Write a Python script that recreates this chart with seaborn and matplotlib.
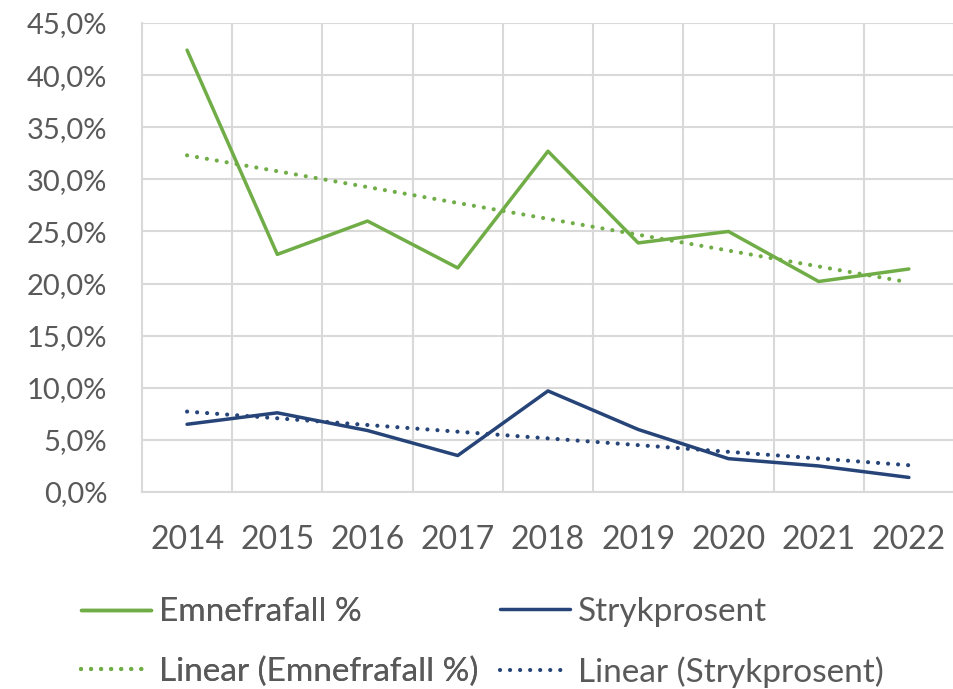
import numpy as np
import pandas as pd
import matplotlib
matplotlib.use("Agg")
import matplotlib.pyplot as plt
import seaborn as sns
from matplotlib.ticker import FuncFormatter, MultipleLocator, FixedLocator

# Data (percent)
years = ["2014", "2015", "2016", "2017", "2018", "2019", "2020", "2021", "2022"]
emnefrafall = [42.4, 22.8, 26.0, 21.5, 32.7, 23.9, 25.0, 20.2, 21.4]
strykprosent = [6.5, 7.6, 5.9, 3.5, 9.7, 6.0, 3.2, 2.5, 1.4]

green = "#70AD47"
blue = "#264478"
text_col = "#595959"
grid_col = "#D9D9D9"

sns.set_style("white")
plt.rcParams["font.family"] = ["Lato", "DejaVu Sans"]

x = np.arange(len(years))
df = pd.DataFrame({"x": x, "Emnefrafall %": emnefrafall, "Strykprosent": strykprosent})

# Linear trendlines (same as Excel "Linear" trendline)
for col in ["Emnefrafall %", "Strykprosent"]:
    k, m = np.polyfit(df["x"], df[col], 1)
    df["Linear (" + col + ")"] = k * df["x"] + m

fig = plt.figure(figsize=(9.54, 6.89), dpi=100)
ax = fig.add_axes([0.1488, 0.2859, 0.8512, 0.6807])

dots = (0, (0.01, 2.4))
sns.lineplot(data=df, x="x", y="Emnefrafall %", color=green, linewidth=2.5, ax=ax,
             label="Emnefrafall %")
sns.lineplot(data=df, x="x", y="Linear (Emnefrafall %)", color=green, linewidth=3.0, ax=ax,
             linestyle=dots, dash_capstyle="round", label="Linear (Emnefrafall %)")
sns.lineplot(data=df, x="x", y="Strykprosent", color=blue, linewidth=2.5, ax=ax,
             label="Strykprosent")
sns.lineplot(data=df, x="x", y="Linear (Strykprosent)", color=blue, linewidth=3.0, ax=ax,
             linestyle=dots, dash_capstyle="round", label="Linear (Strykprosent)")

ax.set_xlim(-0.5, len(years) - 0.5)
ax.set_ylim(0, 45)
ax.yaxis.set_major_locator(MultipleLocator(5))
ax.yaxis.set_major_formatter(FuncFormatter(lambda v, p: f"{v:.1f}%".replace(".", ",")))
ax.set_xticks(x)
ax.set_xticklabels(years)
ax.xaxis.set_minor_locator(FixedLocator(np.arange(0.5, len(years), 1.0)))

ax.grid(axis="y", which="major", color=grid_col, linewidth=1.5)
ax.grid(axis="x", which="minor", color=grid_col, linewidth=1.5)
ax.set_axisbelow(True)

for side in ["top", "right"]:
    ax.spines[side].set_visible(False)
for side in ["left", "bottom"]:
    ax.spines[side].set_color(grid_col)
    ax.spines[side].set_linewidth(1.5)

ax.tick_params(axis="both", which="both", length=0, colors=text_col)
ax.tick_params(axis="x", labelsize=23, pad=24)
ax.tick_params(axis="y", labelsize=21, pad=25)
ax.set_xlabel("")
ax.set_ylabel("")

handles, labels = ax.get_legend_handles_labels()
ax.get_legend().remove()
h = dict(zip(labels, handles))

# two legend columns placed like the Excel legend
leg_kw = dict(loc="center left", frameon=False, fontsize=24, handlelength=2.1,
              handletextpad=0.25, labelspacing=0.88, borderpad=0, borderaxespad=0)
cols = [["Emnefrafall %", "Linear (Emnefrafall %)"],
        ["Strykprosent", "Linear (Strykprosent)"]]
for i, (names, xpos) in enumerate(zip(cols, [0.0849, 0.524])):
    leg = fig.legend([h[n] for n in names], names, bbox_to_anchor=(xpos, 0.068), **leg_kw)
    for t in leg.get_texts():
        t.set_color(text_col)
    if i == 0:
        fig.add_artist(leg)

fig.savefig("out.png", dpi=100)
